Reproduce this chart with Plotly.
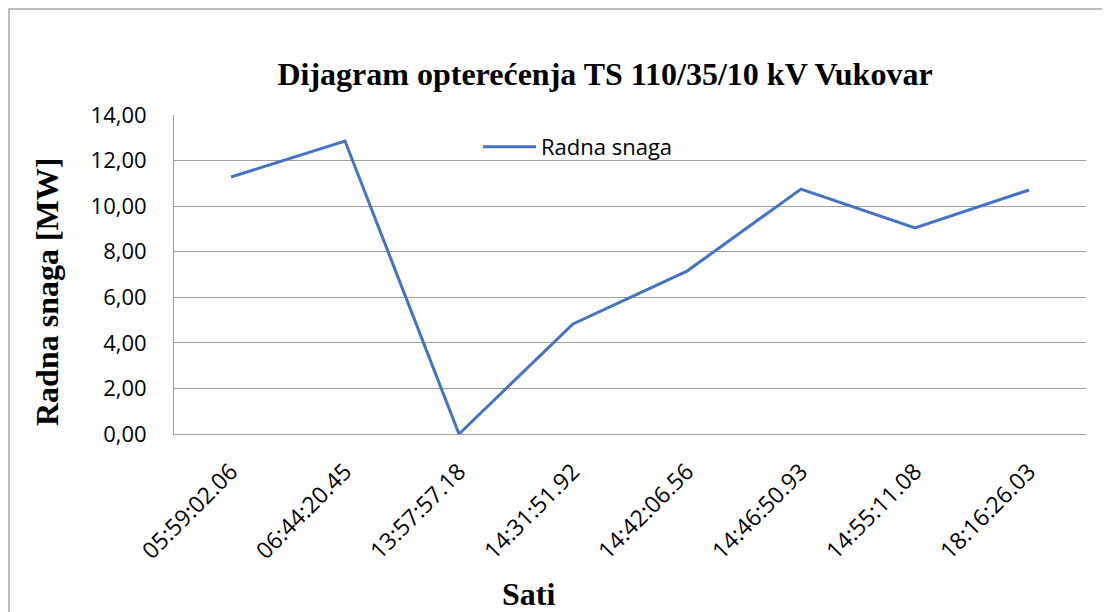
import plotly.graph_objects as go

categories = ["05:59:02.06", "06:44:20.45", "13:57:57.18", "14:31:51.92",
              "14:42:06.56", "14:46:50.93", "14:55:11.08", "18:16:26.03"]
radna_snaga = [11.28, 12.86, 0.0, 4.83, 7.15, 10.75, 9.04, 10.71]
y_ticks = [0, 2, 4, 6, 8, 10, 12, 14]

# page body has an 8px margin; work in screen pixels and convert
O = 8
W, H = 1110 - O, 612 - O
L, R, T, B = 174, 1086, 115, 434  # screen px
pw, ph = R - L, B - T

def px_x(x):
    return (x - L) / pw

def px_y(y):
    return (B - y) / ph

tick_font = dict(family="Open Sans, Liberation Sans, sans-serif", size=22, color="#000000")
xtick_font = dict(family="Open Sans, Liberation Sans, sans-serif", size=23, color="#000000")
serif = "Liberation Serif, Times New Roman, serif"

fig = go.Figure()
fig.add_trace(go.Scatter(
    x=categories, y=radna_snaga, mode="lines", name="Radna snaga",
    line=dict(color="#4472C4", width=3),
))

fig.update_layout(
    width=W, height=H,
    margin=dict(l=L - O, r=1110 - R, t=T - O, b=612 - B),
    paper_bgcolor="white", plot_bgcolor="white",
    separators=", ",
    title=dict(text="<b>Dijagram opterećenja TS 110/35/10 kV Vukovar</b>",
               font=dict(family=serif, size=32, color="#000000"),
               x=px_x(605), xref="paper", xanchor="center",
               y=1 - (74 - O) / H, yanchor="middle"),
    showlegend=True,
    legend=dict(x=px_x(478), y=px_y(147), xanchor="left", yanchor="middle",
                font=tick_font, bgcolor="rgba(0,0,0,0)", itemwidth=53),
    xaxis=dict(
        type="category", tickangle=-45, tickfont=xtick_font,
        showgrid=False, showline=True, linecolor="#a0a0a0", linewidth=1,
        ticks="outside", ticklen=14, tickcolor="rgba(0,0,0,0)",
        range=[-0.5, len(categories) - 0.5], fixedrange=True,
    ),
    yaxis=dict(
        range=[0, 14], tickvals=y_ticks, tickformat=".2f", tickfont=tick_font,
        showgrid=True, gridcolor="#a0a0a0", gridwidth=1,
        showline=True, linecolor="#a0a0a0", linewidth=1,
        ticks="outside", ticklen=22, tickcolor="rgba(0,0,0,0)",
        zeroline=False, fixedrange=True,
    ),
    annotations=[
        dict(text="<b>Sati</b>", x=px_x(528), y=px_y(594), xref="paper", yref="paper",
             showarrow=False, font=dict(family=serif, size=32, color="#000000"),
             xanchor="center", yanchor="middle"),
        dict(text="<b>Radna snaga [MW]</b>", x=px_x(47), y=px_y(292), xref="paper", yref="paper",
             showarrow=False, textangle=-90, font=dict(family=serif, size=32, color="#000000"),
             xanchor="center", yanchor="middle"),
    ],
    shapes=[
        dict(type="rect", xref="paper", yref="paper",
             x0=px_x(9), x1=px_x(1130), y0=px_y(640), y1=px_y(9),
             line=dict(color="#a6a6a6", width=1.5), fillcolor="rgba(0,0,0,0)", layer="below"),
    ],
)

fig.write_html("out.html")
